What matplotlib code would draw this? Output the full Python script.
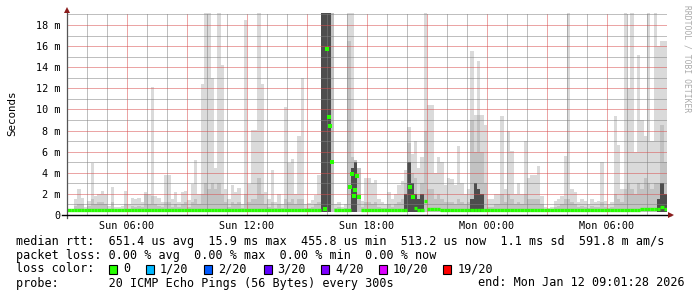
import matplotlib
matplotlib.use("Agg")
import matplotlib.pyplot as plt
import numpy as np
from matplotlib.patches import Rectangle

# 10 minute bins, starting Sun 03:01 (hours since Sun 00:00)
start_hour = 3.02
bin_hours = 1 / 6

# smoke: top of light smoke, mid-grey smoke and dark smoke (milliseconds)
smoke_hi = [
    0.6, 0.6, 1.5, 2.5, 1.6, 0.8, 1.3, 4.9, 1.8, 2.0,
    2.3, 2.0, 0.9, 2.7, 0.8, 0.8, 0.9, 2.3, 1.0, 1.6,
    1.5, 1.6, 1.2, 2.2, 2.0, 12.1, 1.8, 1.6, 1.2, 3.8,
    3.8, 1.5, 2.2, 1.2, 2.2, 2.3, 1.4, 2.9, 5.2, 2.0,
    12.4, 19.2, 19.2, 13.0, 4.5, 19.2, 14.2, 2.5, 1.5, 2.8,
    2.2, 2.6, 1.0, 18.5, 2.9, 8.1, 8.1, 19.2, 12.4, 2.2,
    1.5, 4.3, 1.2, 2.0, 1.0, 10.2, 4.9, 5.3, 2.0, 7.5,
    13.0, 1.0, 1.1, 1.4, 1.9, 3.8, 19.2, 19.2, 19.2, 19.2,
    1.0, 1.2, 0.8, 1.0, 19.2, 19.2, 5.2, 4.5, 1.3, 3.5,
    3.5, 3.0, 3.3, 1.5, 1.2, 1.0, 2.2, 1.5, 2.0, 2.8,
    3.2, 4.3, 8.3, 5.8, 7.0, 4.5, 5.5, 19.2, 10.4, 10.4,
    4.0, 5.5, 5.0, 2.8, 3.5, 3.4, 2.8, 6.5, 3.0, 2.0,
    2.5, 15.5, 9.5, 14.6, 9.5, 8.5, 1.5, 1.5, 2.0, 2.0,
    9.4, 2.5, 8.0, 6.1, 2.0, 3.0, 2.0, 7.0, 3.5, 3.8,
    3.8, 4.6, 1.8, 0.8, 0.7, 0.8, 1.3, 1.5, 1.8, 5.6,
    19.2, 2.5, 2.2, 1.2, 1.5, 1.3, 1.0, 1.5, 1.2, 1.3,
    5.0, 1.3, 1.0, 1.2, 9.4, 6.6, 2.5, 19.2, 12.0, 19.2,
    6.0, 15.2, 9.0, 7.5, 19.2, 7.0, 19.2, 16.0, 16.5, 16.5,
]
smoke_mid = [
    0.5, 0.5, 0.9, 1.0, 1.0, 0.6, 0.9, 1.5, 1.0, 1.2,
    1.2, 1.0, 0.6, 1.2, 0.6, 0.6, 0.6, 1.0, 0.6, 0.9,
    0.8, 0.9, 0.8, 2.0, 1.0, 1.8, 1.0, 0.9, 0.8, 1.2,
    1.2, 0.8, 1.0, 0.8, 1.0, 1.2, 0.8, 1.2, 1.5, 1.0,
    2.0, 3.0, 2.5, 3.0, 2.5, 3.0, 2.0, 1.2, 0.8, 1.2,
    1.0, 1.2, 0.7, 2.0, 1.2, 1.5, 1.5, 3.5, 2.0, 1.0,
    0.8, 1.2, 0.7, 1.0, 0.7, 1.5, 1.2, 1.5, 1.0, 1.5,
    1.5, 0.7, 0.7, 0.8, 1.0, 1.2, 19.2, 19.2, 19.2, 19.2,
    0.7, 0.8, 0.6, 0.7, 16.5, 5.5, 5.2, 4.5, 0.8, 1.2,
    1.2, 1.0, 1.2, 0.8, 0.7, 0.7, 1.0, 0.8, 1.0, 1.2,
    1.5, 3.0, 6.8, 4.0, 3.5, 2.0, 3.0, 8.0, 2.5, 2.5,
    1.5, 2.0, 1.5, 1.2, 1.2, 1.2, 1.0, 1.5, 1.2, 1.0,
    1.2, 9.0, 6.0, 9.5, 6.0, 3.0, 0.8, 0.8, 1.0, 1.0,
    2.0, 1.2, 2.0, 1.5, 1.0, 1.2, 1.0, 2.0, 1.5, 1.5,
    1.5, 1.5, 1.0, 0.6, 0.6, 0.6, 0.8, 0.9, 1.0, 1.5,
    1.5, 1.2, 1.0, 0.8, 0.9, 0.8, 0.7, 0.9, 0.8, 0.8,
    1.2, 0.8, 0.7, 0.8, 2.0, 1.5, 1.2, 2.5, 3.0, 2.5,
    2.0, 3.0, 2.5, 3.5, 3.0, 2.5, 3.0, 3.0, 8.5, 5.0,
]
smoke_dark = [
    0, 0, 0, 0, 0, 0, 0, 0, 0, 0,
    0, 0, 0, 0, 0, 0, 0, 0, 0, 0,
    0, 0, 0, 0, 0, 0, 0, 0, 0, 0,
    0, 0, 0, 0, 0, 0, 0, 0, 0, 0,
    0, 0, 0, 0, 0, 0, 0, 0, 0, 0,
    0, 0, 0, 0, 0, 0, 0, 0, 0, 0,
    0, 0, 0, 0, 0, 0, 0, 0, 0, 0,
    0, 0, 0, 0, 0, 0, 19.2, 19.2, 19.2, 19.2,
    0, 0, 0, 0, 0, 4.5, 5.0, 4.0, 0, 0,
    0, 0, 0, 0, 0, 0, 0, 0, 0, 0,
    0, 2.0, 5.0, 3.0, 2.0, 1.5, 2.0, 2.5, 0, 0,
    0, 0, 0, 0, 0, 0, 0, 0, 0, 0,
    0, 1.5, 3.0, 2.5, 2.0, 1.5, 0, 0, 0, 0,
    0, 0, 0, 0, 0, 0, 0, 0, 0, 0,
    0, 0, 0, 0, 0, 0, 0, 0, 0, 0,
    0, 0, 0, 0, 0, 0, 0, 0, 0, 0,
    0, 0, 0, 0, 0, 0, 0, 0, 0, 0,
    0, 0, 0, 0, 0, 0, 0, 1.5, 3.0, 2.0,
]
nan = float("nan")
median = [
    .46, .46, .46, .46, .46, .43, .46, .46, .43, .46,
    .46, .46, .46, .46, .46, .46, .46, .46, .46, .46,
    .46, .46, .46, .46, .43, .46, .46, .46, .43, .46,
    .46, .46, .46, .46, .46, .46, .46, .46, .46, .46,
    .46, .46, .46, .46, .46, .46, .46, .46, .46, .46,
    .46, .46, .46, .46, .46, .46, .46, .46, .46, .46,
    .46, .46, .46, .46, .46, .46, .46, .46, .46, .46,
    .46, .46, .46, .46, .46, .46, nan, nan, nan, nan,
    .46, .46, .46, .46, .46, nan, nan, nan, .46, .46,
    .46, .46, .46, .46, .46, .46, .46, .46, .46, .46,
    .46, .50, nan, nan, .70, .50, .46, 1.35, .55, .57,
    .57, .57, .50, .46, .46, .46, .46, .46, .46, .46,
    .46, .46, .46, .43, .43, .46, .46, .46, .46, .46,
    .46, .46, .46, .46, .46, .46, .46, .46, .46, .46,
    .46, .46, .46, .46, .46, .46, .46, .46, .46, .46,
    .50, .50, .50, .50, .50, .50, .50, .50, .50, .50,
    .50, .50, .50, .50, .50, .50, .50, .50, .50, .50,
    .50, .50, .55, .55, .55, .55, .55, .55, .75, .60,
]
# single 5-minute medians inside the lossy/jittery stretches
dot_hour = [15.90, 15.99, 16.09, 16.16, 16.27, 17.17, 17.24, 17.34, 17.41,
            17.52, 17.59, 20.16, 20.29]
dot_value = [0.6, 15.7, 9.3, 8.4, 5.0, 2.65, 3.9, 1.8, 2.4, 3.7, 1.7, 2.65, 1.7]

label_hours = [6, 12, 18, 24, 30]
label_names = ["Sun 06:00", "Sun 12:00", "Sun 18:00", "Mon 00:00", "Mon 06:00"]

loss_names = ["0", "1/20", "2/20", "3/20", "4/20", "10/20", "19/20"]
loss_colors = ["#26ff00", "#00b8ff", "#0059ff", "#5e00ff", "#7e00ff", "#dd00ff", "#ff0000"]

mono = "DejaVu Sans Mono"
W, H = 697, 297
fig = plt.figure(figsize=(W / 100, H / 100), dpi=100)
fig.patch.set_facecolor("white")
ax = fig.add_axes([67 / W, (H - 215) / H, 600 / W, 201.6 / H])

n = len(smoke_hi)
edges = start_hour + np.arange(n + 1) * bin_hours
hi = np.array(smoke_hi + [smoke_hi[-1]])
mid = np.array(smoke_mid + [smoke_mid[-1]])
dark = np.array(smoke_dark + [smoke_dark[-1]])
lo = 0.3

ax.fill_between(edges, lo, hi, step="post", color="#dadada", lw=0, zorder=1)
ax.fill_between(edges, lo, mid, step="post", color="#c2c2c2", lw=0, zorder=1.1)
ax.fill_between(edges, lo, dark, where=dark > 0, step="post", color="#4d4d4d",
                lw=0, zorder=1.2)

green = "#26ff00"
ax.hlines(median, edges[:-1], edges[1:], colors=green, lw=2.4, zorder=4)
ax.plot(dot_hour, dot_value, "s", color=green, ms=2.2, mew=0, zorder=4)

ax.set_xlim(start_hour, start_hour + n * bin_hours)
ax.set_ylim(0, 19.1)

# grid: hours / 3 hours, 1 m / 2 m
ax.set_xticks(np.arange(3, 34, 3))
ax.set_xticks(np.arange(3, 34, 1), minor=True)
ax.set_xticklabels([label_names[label_hours.index(h)] if h in label_hours else ""
                    for h in range(3, 34, 3)])
ax.set_yticks(np.arange(0, 19, 2))
ax.set_yticks(np.arange(1, 20, 2), minor=True)
ax.set_yticklabels(["0"] + ["%d m" % v for v in range(2, 19, 2)])
ax.set_axisbelow(False)
ax.grid(which="minor", color=(0.5, 0.5, 0.5, 0.3), lw=0.72, linestyle=(0, (1, 1)))
ax.grid(which="major", color=(0.85, 0.3, 0.3, 0.32), lw=0.72, linestyle=(0, (1, 1)))
ax.tick_params(which="both", length=0)
ax.tick_params(axis="x", pad=4.2, labelsize=7.3)
ax.tick_params(axis="y", pad=5, labelsize=7.3)
for lab in ax.get_xticklabels() + ax.get_yticklabels():
    lab.set_family(mono)

for s in ax.spines.values():
    s.set_visible(False)
x0, x1 = ax.get_xlim()
ax.plot([x0, x0], [-0.3, 19.4], color="#555555", lw=0.9, clip_on=False, zorder=5)
ax.plot([x0 - 0.25, x1 + 0.2], [0, 0], color="black", lw=1.0, clip_on=False, zorder=5)
ax.plot([x0], [19.45], marker="^", color="#8b1c1c", ms=4.5, mew=0, clip_on=False, zorder=6)
ax.plot([x1 + 0.22], [0], marker=">", color="#8b1c1c", ms=4.5, mew=0, clip_on=False, zorder=6)

fig.text(12 / W, 1 - 113 / H, "Seconds", rotation=90, ha="center", va="center",
         fontsize=7.8, family=mono)
fig.text(687 / W, 1 - 59 / H, "RRDTOOL / TOBI OETIKER", rotation=270, ha="center",
         va="center", fontsize=5.8, family=mono, color="#aaaaaa")

fs = 8.45
fig.text(16.5 / W, 1 - 245.5 / H,
         "median rtt:  651.4 us avg  15.9 ms max  455.8 us min  513.2 us now  1.1 ms sd  591.8 m am/s",
         fontsize=fs, family=mono, va="baseline")
fig.text(16.5 / W, 1 - 259.5 / H,
         "packet loss: 0.00 % avg  0.00 % max  0.00 % min  0.00 % now",
         fontsize=fs, family=mono, va="baseline")
fig.text(16.5 / W, 1 - 272.5 / H, "loss color:", fontsize=fs, family=mono, va="baseline")
box_x = [109, 145.5, 203.5, 263.5, 320.5, 378.5, 442.5]
text_x = [123.5, 160, 218.5, 277, 335, 393, 458]
for bx, tx, name, c in zip(box_x, text_x, loss_names, loss_colors):
    fig.patches.append(Rectangle((bx / W, 1 - 273.5 / H), 8 / W, 9 / H,
                                 transform=fig.transFigure, facecolor=c,
                                 edgecolor="black", lw=0.8))
    fig.text(tx / W, 1 - 272.5 / H, name, fontsize=fs, family=mono, va="baseline")
fig.text(16.5 / W, 1 - 286.5 / H, "probe:       20 ICMP Echo Pings (56 Bytes) every 300s",
         fontsize=fs, family=mono, va="baseline")
fig.text(478.5 / W, 1 - 286.5 / H, "end: Mon Jan 12 09:01:28 2026",
         fontsize=fs, family=mono, va="baseline")

fig.savefig("out.png", dpi=100)
